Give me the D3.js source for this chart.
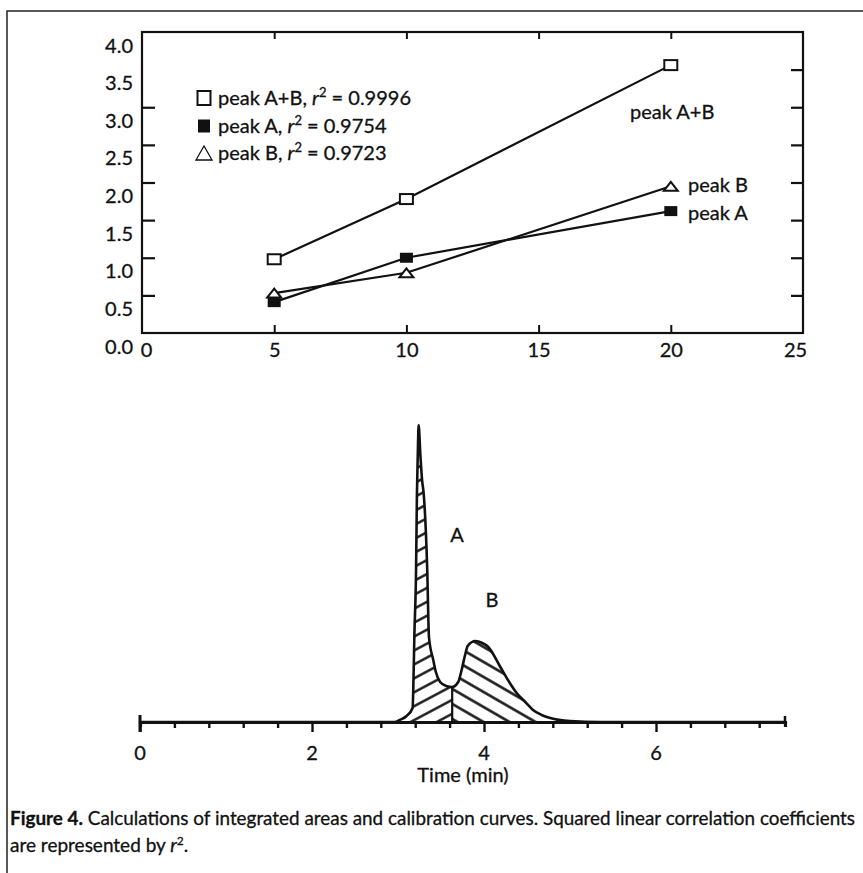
<!DOCTYPE html>
<html>
<head>
<meta charset="utf-8">
<script src="https://cdn.jsdelivr.net/npm/d3@7"></script>
<style>
  body { margin: 0; background: #fff; }
  svg { display: block; }
  text { font-family: "Liberation Sans Narrow", "Lato", sans-serif; fill: #111; stroke: #111; stroke-width: 0.3px; }
</style>
</head>
<body>
<div id="chart"></div>
<script>
// calibration data (top panel)
const conc = [5, 10, 20];
const peakAB = [0.98, 1.78, 3.56];
const peakA = [0.41, 1.00, 1.62];
const peakB = [0.53, 0.80, 1.95];
const seriesNames = ['peak A+B', 'peak A', 'peak B'];
const r2Values = ['0.9996', '0.9754', '0.9723'];
const calXTicks = [0, 5, 10, 15, 20, 25];
const calYTicks = [0, 0.5, 1, 1.5, 2, 2.5, 3, 3.5, 4];

// chromatogram trace (bottom panel)
const chromTime = [0, 2.96, 3.02, 3.10, 3.17, 3.18, 3.19, 3.21, 3.22, 3.23, 3.24, 3.26, 3.28, 3.30, 3.34, 3.36,
  3.41, 3.44, 3.49, 3.56, 3.63, 3.70, 3.74, 3.78, 3.81, 3.90, 3.98, 4.05, 4.19, 4.30, 4.38, 4.48, 4.57,
  4.67, 4.77, 5.00, 5.35, 7.50];
const chromSignal = [0, 0, 2, 6, 14, 42, 85, 152, 227, 267, 297, 267, 242, 227, 152, 85,
  62, 50, 40, 36, 35, 40, 52, 67, 76, 81, 79, 75, 55, 39, 29, 20, 12,
  7, 4, 1, 0, 0];
const valleyTime = 3.63;
const timeTicks = [0, 2, 4, 6];

const W = 863, H = 873;
const svg = d3.select('#chart').append('svg').attr('width', W).attr('height', H);

svg.append('rect').attr('width', W).attr('height', H).attr('fill', '#fff');
// outer figure frame (only top/left edges in view)
svg.append('rect').attr('x', 7).attr('y', 11).attr('width', 880).attr('height', 900)
  .attr('fill', 'none').attr('stroke', '#222').attr('stroke-width', 1.5);

// ---------- top panel ----------
const x = d3.scaleLinear().domain([0, 25]).range([142, 803]);
const y = d3.scaleLinear().domain([0, 4]).range([333, 32]);

const calPanel = svg.append('g');
calPanel.append('rect').attr('x', 142).attr('y', 32).attr('width', 803 - 142).attr('height', 333 - 32)
  .attr('fill', 'none').attr('stroke', '#111').attr('stroke-width', 2.2);

const yLeft = calPanel.append('g').attr('transform', 'translate(142,0)')
  .call(d3.axisLeft(y).tickValues(calYTicks).tickSize(-13).tickPadding(9).tickFormat(d3.format('.1f')));
yLeft.select('.domain').remove();
yLeft.selectAll('.tick line').attr('stroke', '#111').attr('stroke-width', 2.2)
  .style('display', d => (d === 0 || d >= 3.5) ? 'none' : null);
yLeft.selectAll('.tick text').attr('font-size', 20).attr('dy', '1.0em').attr('fill', '#111');

const yRight = calPanel.append('g').attr('transform', 'translate(803,0)')
  .call(d3.axisRight(y).tickValues(calYTicks.filter(d => d > 0 && d < 4)).tickSize(-12).tickFormat(''));
yRight.select('.domain').remove();
yRight.selectAll('.tick line').attr('stroke', '#111').attr('stroke-width', 2.2);

const xBottom = calPanel.append('g').attr('transform', 'translate(0,333)')
  .call(d3.axisBottom(x).tickValues(calXTicks).tickSize(-8).tickPadding(10));
xBottom.select('.domain').remove();
xBottom.selectAll('.tick line').attr('stroke', '#111').attr('stroke-width', 2)
  .style('display', d => (d === 0 || d === 25) ? 'none' : null);
xBottom.selectAll('.tick text').attr('font-size', 20).attr('fill', '#111')
  .attr('dx', d => d === 0 ? 4 : d === 25 ? -8 : 0);

const xTop = calPanel.append('g').attr('transform', 'translate(0,32)')
  .call(d3.axisTop(x).tickValues(calXTicks.filter(d => d > 0 && d < 25)).tickSize(-7).tickFormat(''));
xTop.select('.domain').remove();
xTop.selectAll('.tick line').attr('stroke', '#111').attr('stroke-width', 2);

const series = [
  { name: seriesNames[0], vals: peakAB, marker: 'open' },
  { name: seriesNames[1], vals: peakA, marker: 'filled' },
  { name: seriesNames[2], vals: peakB, marker: 'tri' }
];
const line = d3.line().x(d => x(d[0])).y(d => y(d[1]));

calPanel.selectAll('.cal-line').data(series).enter().append('path')
  .attr('d', s => line(conc.map((c, i) => [c, s.vals[i]])))
  .attr('fill', 'none').attr('stroke', '#111').attr('stroke-width', 2.2);

function drawMarker(g, type, w, h) {
  if (type === 'open') {
    g.append('rect').attr('x', -w / 2).attr('y', -h / 2).attr('width', w).attr('height', h)
      .attr('fill', '#fff').attr('stroke', '#111').attr('stroke-width', 2);
  } else if (type === 'filled') {
    g.append('rect').attr('x', -w / 2).attr('y', -h / 2).attr('width', w).attr('height', h)
      .attr('fill', '#111');
  } else {
    g.append('path').attr('d', `M${-w / 2},${h / 2}L${w / 2},${h / 2}L0,${-h / 2}Z`)
      .attr('fill', '#fff').attr('stroke', '#111').attr('stroke-width', 2).attr('stroke-linejoin', 'miter');
  }
}

series.forEach(s => {
  conc.forEach((c, i) => {
    const g = calPanel.append('g').attr('transform', `translate(${x(c)},${y(s.vals[i])})`);
    if (s.marker === 'tri') drawMarker(g, 'tri', 14, 9);
    else drawMarker(g, s.marker, 13, 10);
  });
});

// end labels
calPanel.append('text').attr('x', 630).attr('y', 119).attr('font-size', 20).text('peak A+B');
calPanel.append('text').attr('x', 688).attr('y', 192).attr('font-size', 20).text('peak B');
calPanel.append('text').attr('x', 688).attr('y', 220).attr('font-size', 20).text('peak A');

// legend
const legendY = [98, 126, 153];
series.forEach((s, i) => {
  const g = calPanel.append('g').attr('transform', `translate(204,${legendY[i]})`);
  if (s.marker === 'open') drawMarker(g, 'open', 13, 14);
  else if (s.marker === 'filled') drawMarker(g, 'filled', 12, 13);
  else {
    g.append('path').attr('d', 'M-8,7L8,7L0,-7Z').attr('fill', 'none').attr('stroke', '#111').attr('stroke-width', 1.3);
  }
  const t = g.append('text').attr('x', 14).attr('y', 7).attr('font-size', 20);
  t.append('tspan').text(s.name + ', ');
  t.append('tspan').attr('font-style', 'italic').text('r');
  t.append('tspan').attr('font-size', 13).attr('dy', -8).text('2');
  t.append('tspan').attr('dy', 8).text(' = ' + r2Values[i]);
});

// ---------- bottom panel: chromatogram ----------
const tx = d3.scaleLinear().domain([0, 7.5]).range([140, 785]);
const sy = d3.scaleLinear().domain([0, 300]).range([722, 422]);

const defs = svg.append('defs');
function hatch(id, angle, gap) {
  const p = defs.append('pattern').attr('id', id).attr('patternUnits', 'userSpaceOnUse')
    .attr('width', 40).attr('height', gap).attr('patternTransform', `rotate(${angle})`);
  p.append('line').attr('x1', 0).attr('x2', 40).attr('y1', gap / 2).attr('y2', gap / 2)
    .attr('stroke', '#111').attr('stroke-width', 2.4);
}
hatch('hatchA', -28, 12.3);
hatch('hatchB', 30, 13);

const pts = chromTime.map((t, i) => [t, chromSignal[i]]);
const valleySignal = chromSignal[chromTime.indexOf(valleyTime)];
const ptsA = pts.filter(d => d[0] >= 2.96 && d[0] <= valleyTime);
const ptsB = pts.filter(d => d[0] >= valleyTime && d[0] <= 5.35);

const area = d3.area().x(d => tx(d[0])).y0(sy(0)).y1(d => sy(d[1])).curve(d3.curveMonotoneX);
const trace = d3.line().x(d => tx(d[0])).y(d => sy(d[1])).curve(d3.curveMonotoneX);

const chromPanel = svg.append('g');
chromPanel.append('path').attr('d', area(ptsA)).attr('fill', 'url(#hatchA)');
chromPanel.append('path').attr('d', area(ptsB)).attr('fill', 'url(#hatchB)');
chromPanel.append('line').attr('x1', tx(valleyTime)).attr('x2', tx(valleyTime))
  .attr('y1', sy(valleySignal)).attr('y2', sy(0)).attr('stroke', '#111').attr('stroke-width', 2.2);
chromPanel.append('path').attr('d', trace(pts)).attr('fill', 'none').attr('stroke', '#111')
  .attr('stroke-width', 2.6).attr('stroke-linejoin', 'round');

// time axis
const minorTicks = d3.range(0, 19).map(i => i * 0.4);
const tAxis = chromPanel.append('g').attr('transform', `translate(0,${sy(0)})`)
  .call(d3.axisBottom(tx).tickValues(minorTicks).tickSize(5).tickFormat(''));
tAxis.select('.domain').attr('stroke', '#111').attr('stroke-width', 3.2);
tAxis.selectAll('.tick line').attr('stroke', '#111').attr('stroke-width', 2.4)
  .attr('y2', d => Math.abs(d / 2 - Math.round(d / 2)) < 1e-6 ? 10 : 6);
chromPanel.append('line').attr('x1', tx(0)).attr('x2', tx(0)).attr('y1', sy(0) - 7).attr('y2', sy(0) + 10)
  .attr('stroke', '#111').attr('stroke-width', 3);
chromPanel.append('line').attr('x1', tx(7.5)).attr('x2', tx(7.5)).attr('y1', sy(0) - 6).attr('y2', sy(0) + 1)
  .attr('stroke', '#111').attr('stroke-width', 2.5);

chromPanel.selectAll('.tlabel').data(timeTicks).enter().append('text')
  .attr('x', d => tx(d)).attr('y', 760).attr('text-anchor', 'middle').attr('font-size', 20)
  .text(d => d);
chromPanel.append('text').attr('x', 463).attr('y', 782).attr('text-anchor', 'middle')
  .attr('font-size', 20).text('Time (min)');

chromPanel.append('text').attr('x', 457).attr('y', 542).attr('text-anchor', 'middle').attr('font-size', 20).text('A');
chromPanel.append('text').attr('x', 492).attr('y', 607).attr('text-anchor', 'middle').attr('font-size', 20).text('B');

// caption
const cap1 = svg.append('text').attr('x', 10).attr('y', 825).attr('font-size', 19)
  .attr('textLength', 845).attr('lengthAdjust', 'spacingAndGlyphs');
cap1.append('tspan').attr('font-weight', 'bold').text('Figure 4.');
cap1.append('tspan').text(' Calculations of integrated areas and calibration curves. Squared linear correlation coefficients');
const cap2 = svg.append('text').attr('x', 10).attr('y', 852).attr('font-size', 19);
cap2.append('tspan').text('are represented by ');
cap2.append('tspan').attr('font-style', 'italic').text('r');
cap2.append('tspan').attr('font-size', 12).attr('dy', -7).text('2');
cap2.append('tspan').attr('dy', 7).text('.');
</script>
</body>
</html>
